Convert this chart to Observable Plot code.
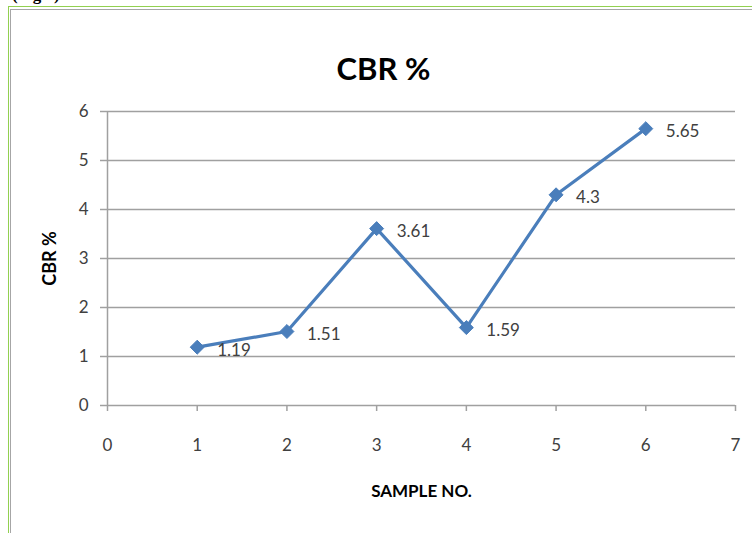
<!DOCTYPE html>
<html>
<head>
<meta charset="utf-8">
<script src="https://cdn.jsdelivr.net/npm/d3@7"></script>
<script src="https://cdn.jsdelivr.net/npm/@observablehq/plot@0.6"></script>
<style>
  html, body { margin: 0; padding: 0; background: #fff; overflow: hidden; }
  #wrap { position: relative; width: 752px; height: 533px; overflow: hidden; }
  #fig { position: absolute; left: 12px; top: -15px; font: bold 17px "Liberation Serif", serif; color: #000; }
  #frame { position: absolute; left: 8px; top: 6px; width: 900px; height: 700px; border: 1.5px solid #92d050; box-sizing: border-box; }
  #frame2 { position: absolute; left: 10px; top: 8.5px; width: 900px; height: 700px; border: 1.5px solid #a6a6a6; box-sizing: border-box; }
  #chart { position: absolute; left: 0; top: 0; }
</style>
</head>
<body>
<div id="wrap">
  <div id="fig">(Fig 5)</div>
  <div id="frame"></div>
  <div id="frame2"></div>
  <div id="chart"></div>
</div>
<script>
const samples = [1, 2, 3, 4, 5, 6];
const cbr = [1.19, 1.51, 3.61, 1.59, 4.3, 5.65];
const labels = ["1.19", "1.51", "3.61", "1.59", "4.3", "5.65"];
const xTicks = [0, 1, 2, 3, 4, 5, 6, 7];
const yTicks = [0, 1, 2, 3, 4, 5, 6];
const title = "CBR %";
const xTitle = "SAMPLE NO.";
const yTitle = "CBR %";

const data = samples.map((s, i) => ({x: s, y: cbr[i], label: labels[i]}));
const blue = "#4a7ebb";
const font = "Lato, 'Open Sans', sans-serif";

const chart = Plot.plot({
  width: 752,
  height: 533,
  marginLeft: 107,
  marginRight: 17,
  marginTop: 111,
  marginBottom: 128,
  style: {background: "transparent", fontFamily: font, color: "#404040"},
  x: {domain: [0, 7]},
  y: {domain: [0, 6]},
  marks: [
    Plot.gridY(yTicks, {stroke: "#a0a0a0", strokeOpacity: 1, strokeWidth: 1.5}),
    Plot.ruleX([0], {stroke: "#a0a0a0", strokeWidth: 1.5}),
    Plot.axisY(yTicks, {tickSize: 7, tickPadding: 12, fontSize: 17, stroke: "#a0a0a0", strokeWidth: 1.5, fill: "#404040", label: null, tickFormat: d => String(d)}),
    Plot.axisX(xTicks, {tickSize: 6, tickPadding: 27, fontSize: 17, stroke: "#a0a0a0", strokeWidth: 1.5, fill: "#404040", label: null, tickFormat: d => String(d)}),
    Plot.line(data, {x: "x", y: "y", stroke: blue, strokeWidth: 3.2}),
    Plot.dot(data, {x: "x", y: "y", symbol: "diamond2", r: 6.3, fill: blue, stroke: blue, strokeWidth: 1}),
    Plot.text(data, {x: "x", y: "y", text: "label", dx: 20, dy: 3, textAnchor: "start", fontSize: 17, fill: "#404040"}),
    Plot.text([title], {frameAnchor: "top", textAnchor: "middle", dy: -54, dx: -38, fontSize: 31, fontWeight: "bold", fill: "#000", fontFamily: font}),
    Plot.text([xTitle], {frameAnchor: "bottom", textAnchor: "middle", dy: 91, fontSize: 17, fontWeight: "bold", fill: "#000", fontFamily: font}),
    Plot.text([yTitle], {frameAnchor: "left", textAnchor: "middle", dx: -57, rotate: -90, fontSize: 18, fontWeight: "bold", fill: "#000", fontFamily: font})
  ]
});
document.getElementById("chart").appendChild(chart);
</script>
</body>
</html>
